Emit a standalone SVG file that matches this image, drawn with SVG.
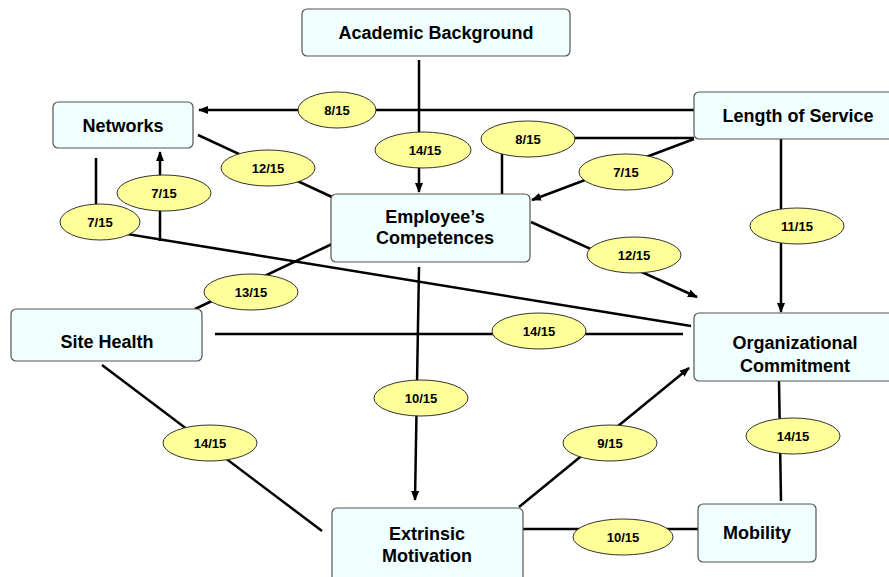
<svg xmlns="http://www.w3.org/2000/svg" width="889" height="577" viewBox="0 0 889 577">
<style>
.box{fill:#F0FFFF;stroke:#555;stroke-width:1.2}
.lbl{font-family:"Liberation Sans",Arial,sans-serif;font-weight:bold;font-size:18px;fill:#000;text-anchor:middle}
.ell{fill:#FFFF99;stroke:#333;stroke-width:1}
.el{font-family:"Liberation Sans",Arial,sans-serif;font-weight:bold;font-size:13px;fill:#000;text-anchor:middle}
.ln{fill:none;stroke:#000;stroke-width:2.5}
</style>
<defs>
<marker id="arr" markerWidth="10" markerHeight="8" refX="9" refY="4" orient="auto" markerUnits="userSpaceOnUse">
<path d="M0,0 L10,4 L0,8 Z" fill="#000"/>
</marker>
</defs>
<rect width="889" height="577" fill="#fff"/>
<g id="connectors">
<line class="ln" x1="419" y1="60" x2="419" y2="192" marker-end="url(#arr)"/>
<line class="ln" x1="694" y1="110" x2="199" y2="110" marker-end="url(#arr)"/>
<line class="ln" x1="198" y1="135" x2="332" y2="197"/>
<polyline class="ln" points="96,158 96,229 691,326"/>
<line class="ln" x1="160" y1="241" x2="160" y2="152" marker-end="url(#arr)"/>
<polyline class="ln" points="694,138 502,138 502,194"/>
<line class="ln" x1="694" y1="139" x2="532" y2="200" marker-end="url(#arr)"/>
<line class="ln" x1="531" y1="222" x2="697" y2="297" marker-end="url(#arr)"/>
<line class="ln" x1="781" y1="139" x2="781" y2="312" marker-end="url(#arr)"/>
<line class="ln" x1="332" y1="244" x2="195" y2="309"/>
<line class="ln" x1="215" y1="334" x2="683" y2="334"/>
<line class="ln" x1="419" y1="267" x2="415" y2="500" marker-end="url(#arr)"/>
<line class="ln" x1="102" y1="365" x2="322" y2="531"/>
<line class="ln" x1="519" y1="507" x2="689" y2="368" marker-end="url(#arr)"/>
<line class="ln" x1="779" y1="381" x2="781" y2="501"/>
<line class="ln" x1="523" y1="529" x2="698" y2="529"/>
</g>
<g id="labels">
<ellipse class="ell" cx="337" cy="110" rx="39" ry="18"/><text class="el" x="337" y="115">8/15</text>
<ellipse class="ell" cx="423" cy="150" rx="48" ry="18"/><text class="el" x="425" y="155">14/15</text>
<ellipse class="ell" cx="268" cy="168" rx="47" ry="18"/><text class="el" x="268" y="173">12/15</text>
<ellipse class="ell" cx="164" cy="193" rx="47" ry="18"/><text class="el" x="164" y="198">7/15</text>
<ellipse class="ell" cx="100" cy="222" rx="40" ry="18"/><text class="el" x="100" y="227">7/15</text>
<ellipse class="ell" cx="251" cy="292" rx="47" ry="18"/><text class="el" x="251" y="297">13/15</text>
<ellipse class="ell" cx="528" cy="139" rx="47" ry="18"/><text class="el" x="528" y="144">8/15</text>
<ellipse class="ell" cx="626" cy="172" rx="47" ry="18"/><text class="el" x="626" y="177">7/15</text>
<ellipse class="ell" cx="797" cy="226" rx="47" ry="18"/><text class="el" x="797" y="231">11/15</text>
<ellipse class="ell" cx="634" cy="255" rx="47" ry="18"/><text class="el" x="634" y="260">12/15</text>
<ellipse class="ell" cx="539" cy="331" rx="47" ry="18"/><text class="el" x="539" y="336">14/15</text>
<ellipse class="ell" cx="421" cy="398" rx="47" ry="18"/><text class="el" x="421" y="403">10/15</text>
<ellipse class="ell" cx="210" cy="443" rx="47" ry="18"/><text class="el" x="210" y="448">14/15</text>
<ellipse class="ell" cx="610" cy="443" rx="47" ry="18"/><text class="el" x="610" y="448">9/15</text>
<ellipse class="ell" cx="793" cy="436" rx="47" ry="18"/><text class="el" x="793" y="441">14/15</text>
<ellipse class="ell" cx="623" cy="537" rx="50" ry="18"/><text class="el" x="623" y="542">10/15</text>
</g>
<g id="academic"><rect class="box" x="302" y="9" width="268" height="47" rx="5"/><text class="lbl" x="436" y="39">Academic Background</text></g>
<g id="networks"><rect class="box" x="53" y="102" width="140" height="46" rx="5"/><text class="lbl" x="123" y="132">Networks</text></g>
<g id="length"><rect class="box" x="694" y="92" width="210" height="47" rx="5"/><text class="lbl" x="798" y="122">Length of Service</text></g>
<g id="competences"><rect class="box" x="331" y="194" width="199" height="68" rx="5"/><text class="lbl" x="435" y="223">Employee’s</text><text class="lbl" x="435" y="244">Competences</text></g>
<g id="sitehealth"><rect class="box" x="11" y="309" width="191" height="52" rx="5"/><text class="lbl" x="107" y="348">Site Health</text></g>
<g id="orgcommit"><rect class="box" x="694" y="313" width="210" height="68" rx="5"/><text class="lbl" x="795" y="349">Organizational</text><text class="lbl" x="795" y="372">Commitment</text></g>
<g id="extrinsic"><rect class="box" x="332" y="508" width="191" height="75" rx="5"/><text class="lbl" x="427" y="540">Extrinsic</text><text class="lbl" x="427" y="562">Motivation</text></g>
<g id="mobility"><rect class="box" x="698" y="504" width="118" height="58" rx="5"/><text class="lbl" x="757" y="539">Mobility</text></g>
</svg>
